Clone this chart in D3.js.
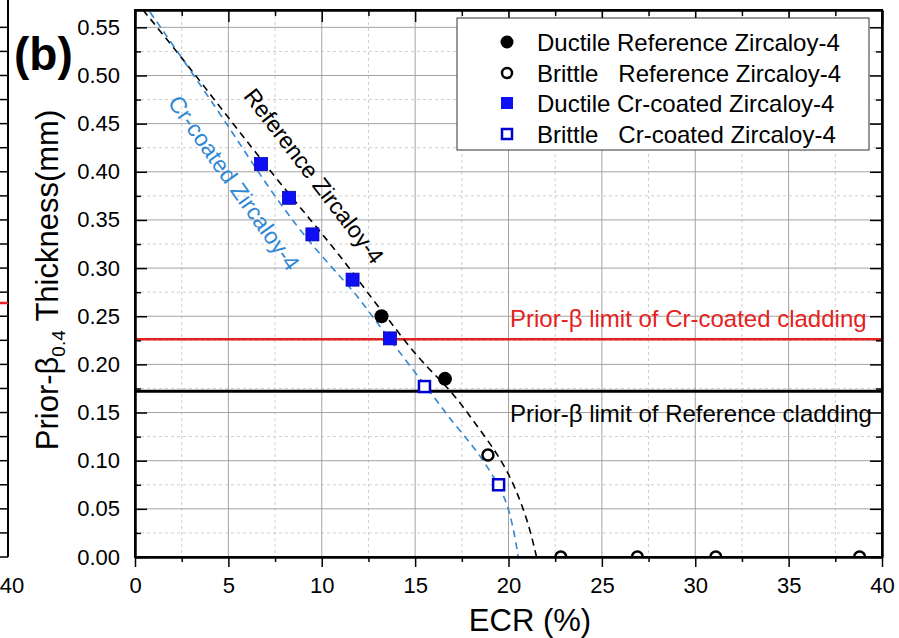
<!DOCTYPE html>
<html>
<head>
<meta charset="utf-8">
<script src="https://cdn.jsdelivr.net/npm/d3@7"></script>
<style>
  body { margin: 0; background: #fff; }
  svg { font-family: "Liberation Sans", Arial, sans-serif; }
</style>
</head>
<body>
<div id="plot"></div>
<script>
// Data (ECR %, thickness mm)
const ductileRef = [[13.2, 0.250], [16.6, 0.185]];
const brittleRef = [[18.9, 0.106], [22.8, 0], [26.9, 0], [31.1, 0], [38.8, 0]];
const ductileCr = [[6.75, 0.408], [8.25, 0.373], [9.5, 0.335], [11.65, 0.288], [13.65, 0.227]];
const brittleCr = [[15.5, 0.177], [19.47, 0.075]];

// dashed fit curves
const refCurve = [[0.43, 0.568], [2.57, 0.517], [5.09, 0.454], [7.39, 0.397], [9.53, 0.347],
  [11.14, 0.309], [12.74, 0.267], [13.65, 0.245], [14.73, 0.217], [15.8, 0.194], [16.69, 0.177],
  [17.58, 0.156], [18.47, 0.132], [19.37, 0.108], [20.08, 0.084], [20.62, 0.059], [21.06, 0.035],
  [21.42, 0.007], [21.5, 0]];
const crCurve = [[0.8, 0.566], [3.3, 0.496], [5.25, 0.44], [6.85, 0.392], [8.67, 0.343],
  [10.28, 0.306], [11.89, 0.272], [12.58, 0.253], [13.65, 0.226], [14.9, 0.194], [15.98, 0.167],
  [17.04, 0.139], [18.12, 0.115], [19.0, 0.090], [19.72, 0.066], [20.08, 0.045], [20.35, 0.021],
  [20.52, 0]];

const crLimit = 0.226;
const refLimit = 0.172;

const xTicks = [0, 5, 10, 15, 20, 25, 30, 35, 40];
const xMinor = [2.5, 7.5, 12.5, 17.5, 22.5, 27.5, 32.5, 37.5];
const yTicks = [0, 0.05, 0.10, 0.15, 0.20, 0.25, 0.30, 0.35, 0.40, 0.45, 0.50, 0.55];
const yMinor = [0.025, 0.075, 0.125, 0.175, 0.225, 0.275, 0.325, 0.375, 0.425, 0.475, 0.525];

const legendLabels = [
  "Ductile Reference Zircaloy-4",
  "Brittle\u00a0\u00a0 Reference Zircaloy-4",
  "Ductile Cr-coated Zircaloy-4",
  "Brittle\u00a0\u00a0 Cr-coated Zircaloy-4"
];

const W = 899, H = 638;
const L = 135, R = 882, T = 10, B = 557;
const blue = "#3088d4";

const svg = d3.select("#plot").append("svg")
  .attr("width", W).attr("height", H);

const x = d3.scaleLinear().domain([0, 40]).range([L, R]);
const y = d3.scaleLinear().domain([0, 0.568]).range([B, T]);

// fragment of the neighbouring panel on the left
const frag = svg.append("g");
frag.append("line").attr("x1", 8).attr("x2", 8).attr("y1", 0).attr("y2", B)
  .attr("stroke", "#000").attr("stroke-width", 2);
frag.selectAll(".ft").data(yTicks.concat(yMinor)).join("line")
  .attr("x1", 0).attr("x2", 8)
  .attr("y1", d => y(d)).attr("y2", d => y(d))
  .attr("stroke", "#000").attr("stroke-width", 1.5);
frag.append("line").attr("x1", 0).attr("x2", 8).attr("y1", 303).attr("y2", 303)
  .attr("stroke", "#e52222").attr("stroke-width", 2.5);
frag.append("text").attr("x", 12).attr("y", 593).attr("text-anchor", "middle")
  .attr("font-size", 22).text("40");

svg.append("defs").append("clipPath").attr("id", "clip")
  .append("rect").attr("x", L).attr("y", T).attr("width", R - L).attr("height", B - T);

// grid
const grid = svg.append("g");
grid.selectAll(".gxm").data(xMinor).join("line")
  .attr("x1", d => x(d)).attr("x2", d => x(d)).attr("y1", T).attr("y2", B)
  .attr("stroke", "#cfcfcf").attr("stroke-dasharray", "3,3");
grid.selectAll(".gym").data(yMinor).join("line")
  .attr("y1", d => y(d)).attr("y2", d => y(d)).attr("x1", L).attr("x2", R)
  .attr("stroke", "#cfcfcf").attr("stroke-dasharray", "3,3");
grid.selectAll(".gx").data(xTicks.slice(1, -1)).join("line")
  .attr("x1", d => x(d)).attr("x2", d => x(d)).attr("y1", T).attr("y2", B)
  .attr("stroke", "#a3a3a3");
grid.selectAll(".gy").data(yTicks.slice(1)).join("line")
  .attr("y1", d => y(d)).attr("y2", d => y(d)).attr("x1", L).attr("x2", R)
  .attr("stroke", "#a3a3a3");

// limit lines
svg.append("line").attr("x1", L).attr("x2", R).attr("y1", y(crLimit)).attr("y2", y(crLimit))
  .attr("stroke", "#e52222").attr("stroke-width", 2.5);
svg.append("line").attr("x1", L).attr("x2", R).attr("y1", y(refLimit)).attr("y2", y(refLimit))
  .attr("stroke", "#000").attr("stroke-width", 3);
svg.append("text").attr("x", 510).attr("y", 327).attr("font-size", 24).attr("fill", "#e52222")
  .text("Prior-\u03b2 limit of Cr-coated cladding");
svg.append("text").attr("x", 510).attr("y", 422).attr("font-size", 24).attr("fill", "#000")
  .text("Prior-\u03b2 limit of Reference cladding");

// dashed curves
const line = d3.line().x(d => x(d[0])).y(d => y(d[1])).curve(d3.curveBasis);
const plot = svg.append("g").attr("clip-path", "url(#clip)");
plot.append("path").datum(refCurve).attr("d", line)
  .attr("fill", "none").attr("stroke", "#000").attr("stroke-width", 1.6).attr("stroke-dasharray", "7,5");
plot.append("path").datum(crCurve).attr("d", line)
  .attr("fill", "none").attr("stroke", blue).attr("stroke-width", 1.6).attr("stroke-dasharray", "7,5");

// curve labels
svg.append("text").attr("font-size", 23).attr("fill", "#000")
  .attr("text-anchor", "middle").attr("dominant-baseline", "central")
  .attr("transform", "translate(314,176) rotate(52.5)")
  .text("Reference Zircaloy-4");
svg.append("text").attr("font-size", 23).attr("fill", blue)
  .attr("text-anchor", "middle").attr("dominant-baseline", "central")
  .attr("transform", "translate(234,183) rotate(54.5)")
  .text("Cr-coated Zircaloy-4");

// markers
plot.selectAll(".dr").data(ductileRef).join("circle")
  .attr("cx", d => x(d[0])).attr("cy", d => y(d[1])).attr("r", 7).attr("fill", "#000");
plot.selectAll(".br").data(brittleRef).join("circle")
  .attr("cx", d => x(d[0])).attr("cy", d => y(d[1])).attr("r", 5.5)
  .attr("fill", "#fff").attr("stroke", "#000").attr("stroke-width", 2.5);
plot.selectAll(".dc").data(ductileCr).join("rect")
  .attr("x", d => x(d[0]) - 6.5).attr("y", d => y(d[1]) - 6.5).attr("width", 13).attr("height", 13)
  .attr("fill", "#0f0ff5").attr("stroke", "#0000b0").attr("stroke-width", 0.8);
plot.selectAll(".bc").data(brittleCr).join("rect")
  .attr("x", d => x(d[0]) - 5.5).attr("y", d => y(d[1]) - 5.5).attr("width", 11).attr("height", 11)
  .attr("fill", "#fff").attr("stroke", "#0000d0").attr("stroke-width", 2.5);

// axes
function styleAxis(g) {
  g.select(".domain").attr("stroke-width", 2);
  g.selectAll(".tick line").attr("stroke-width", 1.5);
  g.selectAll("text").attr("font-size", 22).attr("fill", "#000")
    .attr("font-family", "'Liberation Sans', Arial, sans-serif");
}
svg.append("g").attr("transform", `translate(0,${B})`)
  .call(d3.axisBottom(x).tickValues(xMinor).tickSize(5).tickSizeOuter(0).tickFormat(""))
  .call(styleAxis);
svg.append("g").attr("transform", `translate(0,${B})`)
  .call(d3.axisBottom(x).tickValues(xTicks).tickSize(10).tickPadding(10).tickSizeOuter(0).tickFormat(d3.format("d")))
  .call(styleAxis);
svg.append("g").attr("transform", `translate(0,${T})`)
  .call(d3.axisTop(x).tickValues(xMinor).tickSize(-6).tickSizeOuter(0).tickFormat(""))
  .call(styleAxis);
svg.append("g").attr("transform", `translate(0,${T})`)
  .call(d3.axisTop(x).tickValues(xTicks).tickSize(-12).tickSizeOuter(0).tickFormat(""))
  .call(styleAxis);
svg.append("g").attr("transform", `translate(${L},0)`)
  .call(d3.axisLeft(y).tickValues(yMinor).tickSize(-6).tickSizeOuter(0).tickFormat(""))
  .call(styleAxis);
svg.append("g").attr("transform", `translate(${L},0)`)
  .call(d3.axisLeft(y).tickValues(yTicks).tickSize(-12).tickPadding(15).tickSizeOuter(0).tickFormat(d3.format(".2f")))
  .call(styleAxis);
svg.append("g").attr("transform", `translate(${R},0)`)
  .call(d3.axisRight(y).tickValues(yMinor).tickSize(-6).tickSizeOuter(0).tickFormat(""))
  .call(styleAxis);
svg.append("g").attr("transform", `translate(${R},0)`)
  .call(d3.axisRight(y).tickValues(yTicks).tickSize(-12).tickSizeOuter(0).tickFormat(""))
  .call(styleAxis);
// close the frame
svg.append("rect").attr("x", L).attr("y", T).attr("width", R - L).attr("height", B - T)
  .attr("fill", "none").attr("stroke", "#000").attr("stroke-width", 2);

// axis titles
svg.append("text").attr("x", 530).attr("y", 631).attr("text-anchor", "middle")
  .attr("font-size", 31).text("ECR (%)");
const yt = svg.append("text").attr("text-anchor", "middle").attr("font-size", 31)
  .attr("transform", "translate(58,280) rotate(-90)");
yt.append("tspan").text("Prior-\u03b2");
yt.append("tspan").attr("font-size", 19).attr("dy", 7).text("0.4");
yt.append("tspan").attr("dy", -7).text(" Thickness(mm)");

// panel tag
svg.append("text").attr("x", 14).attr("y", 70).attr("font-size", 46).attr("font-weight", "bold")
  .text("(b)");

// legend
const lg = svg.append("g");
lg.append("rect").attr("x", 457).attr("y", 18).attr("width", 412).attr("height", 132)
  .attr("fill", "#fff").attr("stroke", "#333").attr("stroke-width", 1);
const rowY = [42, 73, 103, 134];
const sx = 507;
lg.append("circle").attr("cx", sx).attr("cy", rowY[0]).attr("r", 6.5).attr("fill", "#000");
lg.append("circle").attr("cx", sx).attr("cy", rowY[1]).attr("r", 5).attr("fill", "#fff")
  .attr("stroke", "#000").attr("stroke-width", 2.5);
lg.append("rect").attr("x", sx - 6).attr("y", rowY[2] - 6).attr("width", 12).attr("height", 12)
  .attr("fill", "#0f0ff5");
lg.append("rect").attr("x", sx - 5).attr("y", rowY[3] - 5).attr("width", 10).attr("height", 10)
  .attr("fill", "#fff").attr("stroke", "#0000d0").attr("stroke-width", 2.5);
lg.selectAll(".lt").data(legendLabels).join("text")
  .attr("x", 537).attr("y", (d, i) => rowY[i]).attr("dy", "0.36em")
  .attr("font-size", 24).text(d => d);
</script>
</body>
</html>
